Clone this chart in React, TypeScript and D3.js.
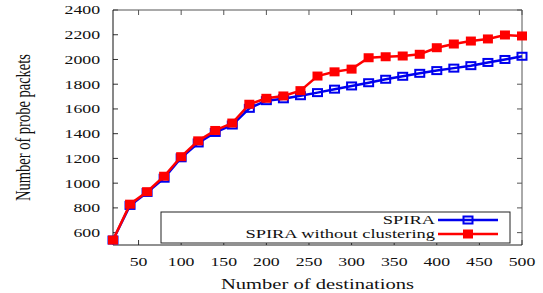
import { scaleLinear, line } from "d3";

// number of destinations
const destinations = [
  20, 40, 60, 80, 100, 120, 140, 160, 180, 200, 220, 240, 260, 280, 300, 320,
  340, 360, 380, 400, 420, 440, 460, 480, 500,
];
const spira = [
  540, 820, 925, 1040, 1205, 1325, 1410, 1470, 1605, 1667, 1682, 1707, 1732,
  1760, 1786, 1812, 1840, 1864, 1888, 1910, 1930, 1950, 1976, 2000, 2026,
];
const spiraNoClustering = [
  540, 830, 931, 1056, 1214, 1342, 1426, 1486, 1638, 1686, 1705, 1748, 1866,
  1900, 1922, 2014, 2022, 2028, 2042, 2095, 2125, 2149, 2166, 2198, 2190,
];
const xTicks = [50, 100, 150, 200, 250, 300, 350, 400, 450, 500];
const yTicks = [600, 800, 1000, 1200, 1400, 1600, 1800, 2000, 2200, 2400];

const width = 543;
const height = 293;
const margin = { top: 10, right: 21, bottom: 48, left: 113 };
const FONT = '"Liberation Serif", "DejaVu Serif", "Times New Roman", serif';
const SX = 1.42; // picture is stretched sideways

export default function App() {
  const x = scaleLinear().domain([20, 500]).range([margin.left, width - margin.right]);
  const y = scaleLinear().domain([500, 2400]).range([height - margin.bottom, margin.top]);
  const x0 = x.range()[0];
  const x1 = x.range()[1];
  const y0 = y.range()[0];
  const y1 = y.range()[1];

  const path = (vals: number[]) =>
    line<number>()
      .x((_, i) => x(destinations[i]))
      .y((d) => y(d))(vals) as string;

  const tk = 5;
  const txt = { fontFamily: FONT };

  return (
    <svg
      width={width}
      height={height}
      style={{ position: "absolute", left: 0, top: 0, background: "#fff", fontFamily: FONT }}
    >
      {/* ticks */}
      {yTicks.map((t) => (
        <g key={"y" + t}>
          <line x1={x0} x2={x0 + tk} y1={y(t)} y2={y(t)} stroke="#333" />
          <line x1={x1} x2={x1 - tk} y1={y(t)} y2={y(t)} stroke="#555" />
          <text
            transform={`translate(100,${y(t)}) scale(${SX},1)`}
            textAnchor="end"
            dy="0.35em"
            fontSize={12.5}
            fill="#111"
            style={txt}
          >
            {t}
          </text>
        </g>
      ))}
      {xTicks.map((t) => (
        <g key={"x" + t}>
          <line x1={x(t)} x2={x(t)} y1={y0} y2={y0 - tk} stroke="#333" />
          <line x1={x(t)} x2={x(t)} y1={y1} y2={y1 + tk} stroke="#555" />
          <text
            transform={`translate(${x(t)},266) scale(${SX},1)`}
            textAnchor="middle"
            fontSize={12.5}
            fill="#111"
            style={txt}
          >
            {t}
          </text>
        </g>
      ))}

      {/* frame */}
      <line x1={x0} x2={x1} y1={y1} y2={y1} stroke="#555" />
      <line x1={x1} x2={x1} y1={y1} y2={y0} stroke="#555" />
      <line x1={x0} x2={x1} y1={y0} y2={y0} stroke="#222" />
      <line x1={x0} x2={x0} y1={y1} y2={y0} stroke="#111" />

      {/* legend box */}
      <rect x={161} y={212} width={349} height={31} fill="#fff" stroke="#222" />

      {/* series */}
      <path d={path(spira)} fill="none" stroke="#0000ee" strokeWidth={2.5} />
      {spira.map((v, i) => (
        <rect
          key={"b" + i}
          x={x(destinations[i]) - 4.5}
          y={y(v) - 3.5}
          width={9}
          height={7}
          fill="none"
          stroke="#0000ee"
          strokeWidth={2}
        />
      ))}
      <path d={path(spiraNoClustering)} fill="none" stroke="#ff0000" strokeWidth={2.5} />
      {spiraNoClustering.map((v, i) => (
        <rect
          key={"r" + i}
          x={x(destinations[i]) - 5}
          y={y(v) - 4.5}
          width={10}
          height={9}
          fill="#ff0000"
        />
      ))}

      {/* legend */}
      <text
        transform={`translate(435,224) scale(${SX},1)`}
        textAnchor="end"
        fontSize={13}
        fill="#111"
        style={txt}
      >
        SPIRA
      </text>
      <line x1={438} x2={498} y1={220} y2={220} stroke="#0000ee" strokeWidth={2.5} />
      <rect x={463.5} y={216.5} width={9} height={7} fill="none" stroke="#0000ee" strokeWidth={2} />
      <text
        transform={`translate(435,237.5) scale(${SX},1)`}
        textAnchor="end"
        fontSize={13}
        fill="#111"
        style={txt}
      >
        SPIRA without clustering
      </text>
      <line x1={438} x2={498} y1={234} y2={234} stroke="#ff0000" strokeWidth={2.5} />
      <rect x={463} y={229.5} width={10} height={9} fill="#ff0000" />

      {/* axis titles */}
      <text
        transform={`translate(${(x0 + x1) / 2},289) scale(${SX},1)`}
        textAnchor="middle"
        fontSize={14.5}
        fill="#111"
        style={txt}
      >
        Number of destinations
      </text>
      <text
        transform={`translate(30,${(y0 + y1) / 2}) scale(${SX},1) rotate(-90)`}
        textAnchor="middle"
        fontSize={14.5}
        fill="#111"
        style={txt}
      >
        Number of probe packets
      </text>
    </svg>
  );
}
